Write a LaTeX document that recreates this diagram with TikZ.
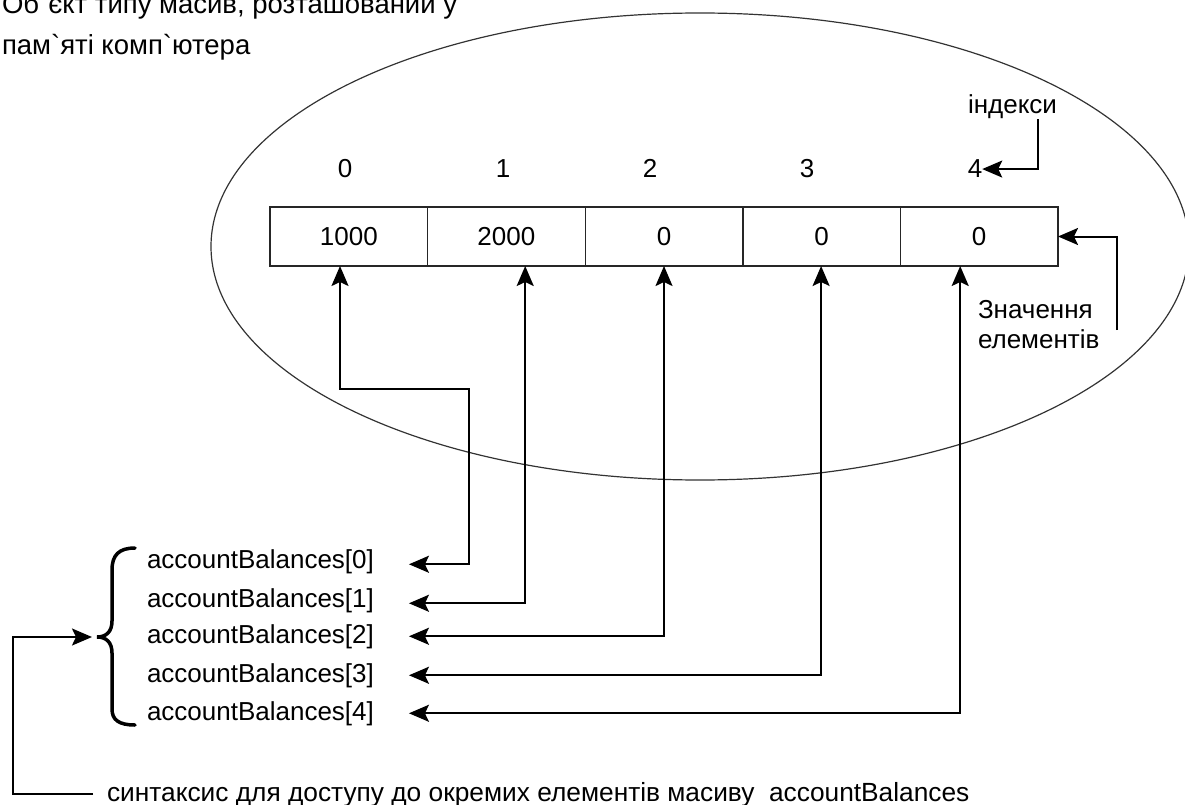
\documentclass[tikz,border=0pt]{standalone}
\usepackage{fontspec}
\newfontfamily\lsans{Liberation Sans}
\usetikzlibrary{arrows.meta}
\tikzset{myhead/.tip={Stealth[length=20pt,width=17pt,inset=4pt]}}
\begin{document}
\begin{tikzpicture}[x=1pt,y=-1pt,
  txt/.style={font=\lsans\fontsize{26}{30}\selectfont, inner sep=0pt, outer sep=0pt},
  bigtxt/.style={font=\lsans\fontsize{27.5}{32}\selectfont, inner sep=0pt, outer sep=0pt},
  captxt/.style={font=\lsans\fontsize{26.3}{30}\selectfont, inner sep=0pt, outer sep=0pt},
  cell/.style={draw=black!85, line width=1.4pt, minimum width=157.6pt, minimum height=59pt,
               inner sep=0pt, outer sep=0pt, font=\lsans\fontsize{26}{30}\selectfont},
  arrL/.style={line width=2pt, -{myhead}},
  arrB/.style={line width=2pt, {myhead}-{myhead}},
  ellstyle/.style={line width=1.2pt, draw=black!80},
  bracestyle/.style={line width=3.5pt, line cap=round}
  ]
\useasboundingbox (0,0) rectangle (1185,805);

% ellipse (memory)
\draw[ellstyle] (700,246.5) ellipse [x radius=489, y radius=233.5];

% title
\node[bigtxt, anchor=base west] (t1) at (2,14) {Об`єкт типу масив, розташований у};
\node[bigtxt, anchor=base west] (t2) at (2,55) {пам`яті комп`ютера};

% array cells
\node[cell, anchor=west] (c0) at (270,236.5) {1000};
\node[cell, anchor=west] (c1) at (c0.east) {2000};
\node[cell, anchor=west] (c2) at (c1.east) {0};
\node[cell, anchor=west] (c3) at (c2.east) {0};
\node[cell, anchor=west] (c4) at (c3.east) {0};

% indices
\node[txt, anchor=base] (i0) at (345,178) {0};
\node[txt, anchor=base] (i1) at (503,178) {1};
\node[txt, anchor=base] (i2) at (650,178) {2};
\node[txt, anchor=base] (i3) at (807,178) {3};
\node[txt, anchor=base] (i4) at (975,178) {4};
\node[txt, anchor=base] (ind) at (1012.5,114) {індекси};
\draw[arrL] ([xshift=25.5pt]ind.south) |- (i4.east);

% values label
\node[txt, anchor=base west] (z1) at (978,318) {Значення};
\node[txt, anchor=base west] (z2) at (978,348) {елементів};
\coordinate (zs) at (1117,330);
\draw[arrL] (zs) |- (c4.east);

% access expressions
\node[txt, anchor=base west] (a0) at (147,568) {accountBalances[0]};
\node[txt, anchor=base west] (a1) at (147,607) {accountBalances[1]};
\node[txt, anchor=base west] (a2) at (147,643) {accountBalances[2]};
\node[txt, anchor=base west] (a3) at (147,682) {accountBalances[3]};
\node[txt, anchor=base west] (a4) at (147,720) {accountBalances[4]};

\draw[arrB] ([xshift=-8.8pt]c0.south) -- ++(0,123) -| ([xshift=95pt,yshift=-3pt]a0.east) -- ([xshift=35pt,yshift=-3pt]a0.east);
\draw[arrB] ([xshift=18.8pt]c1.south) |- ([xshift=35pt,yshift=-3pt]a1.east);
\draw[arrB] ([xshift=0pt]c2.south) |- ([xshift=35pt]a2.east);
\draw[arrB] ([xshift=-0.5pt]c3.south) |- ([xshift=35pt]a3.east);
\draw[arrB] ([xshift=-19pt]c4.south) |- ([xshift=35pt]a4.east);

% brace
\coordinate (btip) at (97,637);
\draw[bracestyle] (135,548) .. controls (119,548) and (112,555) .. (112,570)
  -- (112,621) .. controls (112,632) and (106,637) .. (btip)
  .. controls (106,637) and (112,642) .. (112,653)
  -- (112,709) .. controls (112,720) and (119,725) .. (135,725);

% bottom caption
\node[captxt, anchor=base west] (bt) at (107,801) {синтаксис для доступу до окремих елементів масиву\ \ accountBalances};
\draw[arrL] ([xshift=-14pt]bt.west) -| ([xshift=-84pt]btip) -- ([xshift=-5pt]btip);
\end{tikzpicture}
\end{document}
